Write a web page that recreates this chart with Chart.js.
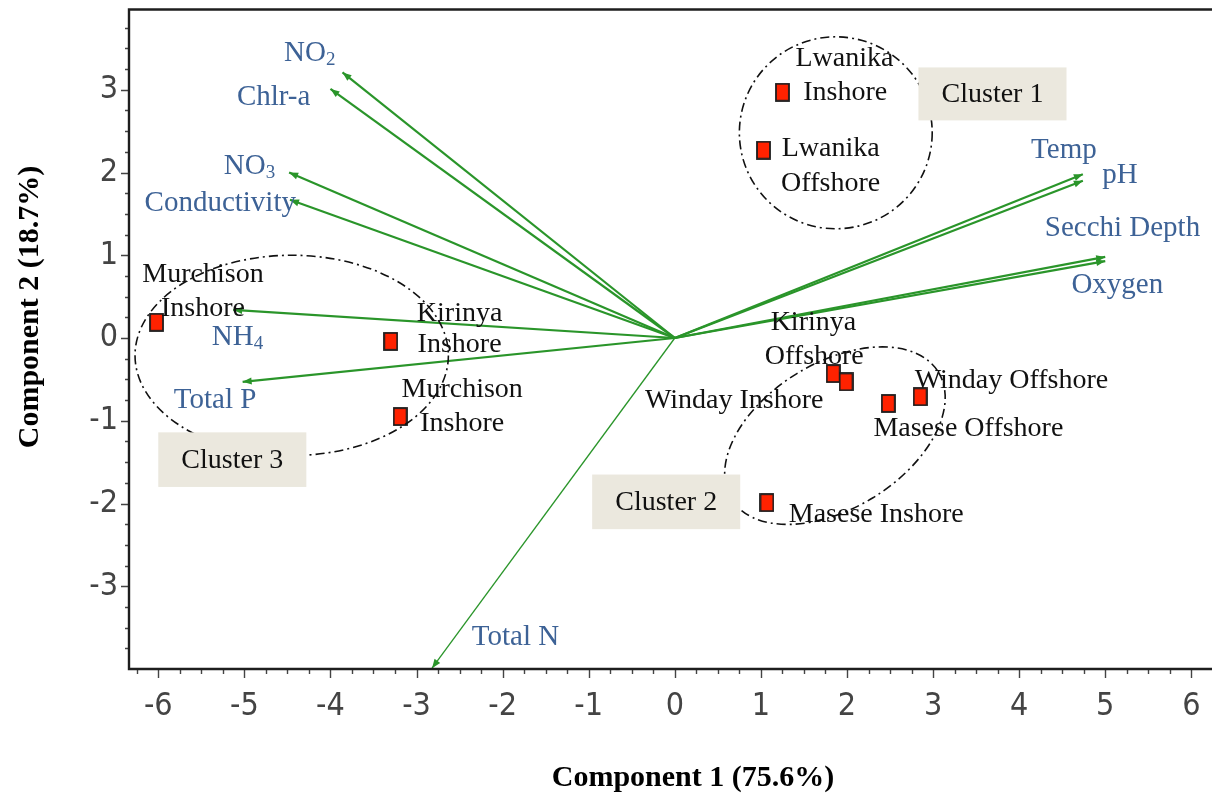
<!DOCTYPE html>
<html lang="en">
<head>
<meta charset="UTF-8" />
<title>PCA biplot - Components 1 and 2</title>
<script src="https://cdn.jsdelivr.net/npm/chart.js"></script>
<style>
  html, body { margin: 0; padding: 0; background: #fff; overflow: hidden; }
  canvas { display: block; }
</style>
</head>
<body>
<canvas id="biplot" width="1212" height="796"></canvas>
<script>
  // sampling sites (component scores)
  const siteNames = ['Lwanika Inshore', 'Lwanika Offshore', 'Murchison Inshore', 'Kirinya Inshore', 'Murchison Inshore',
                     'Kirinya Offshore', 'Winday Inshore', 'Masese Offshore', 'Winday Offshore', 'Masese Inshore'];
  const siteX = [1.25, 1.03, -6.02, -3.30, -3.19, 1.84, 1.99, 2.48, 2.85, 1.07];
  const siteY = [2.97, 2.27, 0.19, -0.04, -0.95, -0.43, -0.53, -0.79, -0.71, -1.99];

  // variable loadings (arrow tips)
  const varNames = ['NO2', 'Chlr-a', 'NO3', 'Conductivity', 'NH4', 'Total P', 'Total N', 'Temp', 'pH', 'Secchi Depth', 'Oxygen'];
  const varX = [-3.86, -4.00, -4.48, -4.47, -5.13, -5.02, -2.82, 4.74, 4.74, 5.00, 5.00];
  const varY = [3.21, 3.01, 2.00, 1.67, 0.34, -0.53, -3.99, 1.98, 1.90, 0.98, 0.93];

  const xTicks = [-6, -5, -4, -3, -2, -1, 0, 1, 2, 3, 4, 5, 6];
  const yTicks = [-3, -2, -1, 0, 1, 2, 3];

  // annotation layout (in axis units)
  const siteLabels = [
    { t: 'Lwanika', x: 1.97, y: 3.38 }, { t: 'Inshore', x: 1.98, y: 2.96 },
    { t: 'Lwanika', x: 1.81, y: 2.29 }, { t: 'Offshore', x: 1.81, y: 1.87 },
    { t: 'Murchison', x: -5.48, y: 0.76 }, { t: 'Inshore', x: -5.48, y: 0.36 },
    { t: 'Kirinya', x: -2.50, y: 0.30 }, { t: 'Inshore', x: -2.50, y: -0.08 },
    { t: 'Murchison', x: -2.47, y: -0.63 }, { t: 'Inshore', x: -2.47, y: -1.04 },
    { t: 'Kirinya', x: 1.61, y: 0.18 }, { t: 'Offshore', x: 1.62, y: -0.23 },
    { t: 'Winday Inshore', x: 0.69, y: -0.76 },
    { t: 'Winday Offshore', x: 3.91, y: -0.52 },
    { t: 'Masese Offshore', x: 3.41, y: -1.09 },
    { t: 'Masese Inshore', x: 2.34, y: -2.13 }
  ];
  const varLabels = [
    { t: 'NO', sub: '2', x: -4.24, y: 3.44 },
    { t: 'Chlr-a', x: -4.66, y: 2.91 },
    { t: 'NO', sub: '3', x: -4.94, y: 2.08 },
    { t: 'Conductivity', x: -5.28, y: 1.63 },
    { t: 'NH', sub: '4', x: -5.08, y: 0.01 },
    { t: 'Total P', x: -5.34, y: -0.75 },
    { t: 'Total N', x: -1.85, y: -3.62 },
    { t: 'Temp', x: 4.52, y: 2.27 },
    { t: 'pH', x: 5.17, y: 1.96 },
    { t: 'Secchi Depth', x: 5.20, y: 1.32 },
    { t: 'Oxygen', x: 5.14, y: 0.64 }
  ];
  const clusterRings = [
    { cx: 1.87, cy: 2.48, rx: 1.12, ry: 1.16, rot: 0 },
    { cx: -4.45, cy: -0.21, rx: 1.82, ry: 1.21, rot: 0 },
    { cx: 1.86, cy: -1.18, rx: 1.41, ry: 0.88, rot: -31.5 }
  ];
  const clusterBoxes = [
    { t: 'Cluster 1', x0: 2.83, x1: 4.55, y0: 2.63, y1: 3.27 },
    { t: 'Cluster 3', x0: -6.00, x1: -4.28, y0: -1.80, y1: -1.14 },
    { t: 'Cluster 2', x0: -0.96, x1: 0.76, y0: -2.31, y1: -1.65 }
  ];

  const SERIF = "'Liberation Serif', 'Times New Roman', serif";
  const NARROW = "'Liberation Sans Narrow', 'Arial Narrow', 'DejaVu Sans Condensed', 'Liberation Sans', sans-serif";
  const BLUE = '#3d6296';
  const GREEN = '#2a952a';

  // red square marker
  const marker = document.createElement('canvas');
  marker.width = 15; marker.height = 19;
  const mctx = marker.getContext('2d');
  mctx.fillStyle = '#ff2200';
  mctx.fillRect(1, 1, 13, 17);
  mctx.strokeStyle = '#1c1c1c';
  mctx.lineWidth = 1.8;
  mctx.strokeRect(1, 1, 13, 17);

  const vectorSets = varNames.map((name, i) => ({
    label: name,
    data: [{ x: 0, y: 0 }, { x: varX[i], y: varY[i] }],
    showLine: true,
    borderColor: GREEN,
    borderWidth: name === 'Total N' ? 1.3 : 2.2,
    pointRadius: 0,
    order: 2
  }));

  const biplotDecor = {
    id: 'biplotDecor',
    afterDatasetsDraw(chart) {
      const { ctx, scales: { x, y } } = chart;
      const ux = x.getPixelForValue(1) - x.getPixelForValue(0);
      const uy = y.getPixelForValue(0) - y.getPixelForValue(1);
      const ox = x.getPixelForValue(0), oy = y.getPixelForValue(0);
      ctx.save();

      // arrow heads
      ctx.fillStyle = GREEN;
      varX.forEach((vx, i) => {
        const tx = x.getPixelForValue(vx), ty = y.getPixelForValue(varY[i]);
        const len = Math.hypot(tx - ox, ty - oy);
        const dx = (tx - ox) / len, dy = (ty - oy) / len;
        const hl = 9, hw = 3.5;
        ctx.beginPath();
        ctx.moveTo(tx, ty);
        ctx.lineTo(tx - hl * dx - hw * dy, ty - hl * dy + hw * dx);
        ctx.lineTo(tx - hl * dx + hw * dy, ty - hl * dy - hw * dx);
        ctx.closePath();
        ctx.fill();
      });

      // cluster rings
      ctx.strokeStyle = '#111';
      ctx.lineWidth = 1.6;
      ctx.setLineDash([9, 4, 2, 4]);
      clusterRings.forEach(r => {
        ctx.beginPath();
        ctx.ellipse(x.getPixelForValue(r.cx), y.getPixelForValue(r.cy), r.rx * ux, r.ry * uy,
                    r.rot * Math.PI / 180, 0, Math.PI * 2);
        ctx.stroke();
      });
      ctx.setLineDash([]);

      // cluster boxes
      ctx.textAlign = 'center';
      ctx.textBaseline = 'middle';
      clusterBoxes.forEach(b => {
        const l = x.getPixelForValue(b.x0), r = x.getPixelForValue(b.x1);
        const t = y.getPixelForValue(b.y1), bt = y.getPixelForValue(b.y0);
        ctx.fillStyle = '#ebe8de';
        ctx.fillRect(l, t, r - l, bt - t);
        ctx.fillStyle = '#111';
        ctx.font = '28px ' + SERIF;
        ctx.fillText(b.t, (l + r) / 2, (t + bt) / 2 + 1);
      });

      // site labels
      ctx.fillStyle = '#111';
      ctx.font = '28px ' + SERIF;
      siteLabels.forEach(s => ctx.fillText(s.t, x.getPixelForValue(s.x), y.getPixelForValue(s.y)));

      // variable labels
      ctx.fillStyle = BLUE;
      varLabels.forEach(v => {
        const cx = x.getPixelForValue(v.x), cy = y.getPixelForValue(v.y);
        ctx.font = '29px ' + SERIF;
        const w1 = ctx.measureText(v.t).width;
        let w2 = 0;
        if (v.sub) { ctx.font = '19px ' + SERIF; w2 = ctx.measureText(v.sub).width; }
        const start = cx - (w1 + w2) / 2;
        ctx.textAlign = 'left';
        ctx.font = '29px ' + SERIF;
        ctx.fillText(v.t, start, cy);
        if (v.sub) {
          ctx.font = '19px ' + SERIF;
          ctx.fillText(v.sub, start + w1, cy + 7);
        }
      });
      ctx.restore();
    },
    afterDraw(chart) {
      const { ctx, chartArea: a, scales: { x, y } } = chart;
      ctx.save();
      // minor/major tick marks
      ctx.strokeStyle = '#444';
      ctx.lineWidth = 1.4;
      ctx.beginPath();
      for (let v = -6.25; v <= x.max + 1e-9; v += 0.25) {
        const px = Math.round(x.getPixelForValue(v)) + 0.5;
        const major = Math.abs(v - Math.round(v)) < 1e-6;
        ctx.moveTo(px, a.bottom);
        ctx.lineTo(px, a.bottom + (major ? 9 : 5));
      }
      for (let v = -3.75; v <= y.max + 1e-9; v += 0.25) {
        const py = Math.round(y.getPixelForValue(v)) + 0.5;
        const major = Math.abs(v - Math.round(v)) < 1e-6;
        ctx.moveTo(a.left, py);
        ctx.lineTo(a.left - (major ? 8 : 4), py);
      }
      ctx.stroke();

      // frame (left, bottom, top)
      ctx.strokeStyle = '#1e1e1e';
      ctx.lineWidth = 2.4;
      ctx.beginPath();
      ctx.moveTo(a.right, a.top);
      ctx.lineTo(a.left, a.top);
      ctx.lineTo(a.left, a.bottom);
      ctx.lineTo(a.right, a.bottom);
      ctx.stroke();

      // axis titles
      ctx.fillStyle = '#000';
      ctx.font = 'bold 30px ' + SERIF;
      ctx.textAlign = 'center';
      ctx.textBaseline = 'middle';
      ctx.fillText('Component 1 (75.6%)', 693, 778);
      ctx.translate(30, 307);
      ctx.rotate(-Math.PI / 2);
      ctx.fillText('Component 2 (18.7%)', 0, 0);
      ctx.restore();
    }
  };

  new Chart(document.getElementById('biplot'), {
    type: 'scatter',
    data: {
      datasets: [{
        label: 'Sites',
        data: siteX.map((v, i) => ({ x: v, y: siteY[i], name: siteNames[i] })),
        pointStyle: marker,
        pointRadius: 8,
        order: 0
      }, ...vectorSets]
    },
    options: {
      responsive: false,
      animation: false,
      devicePixelRatio: 1,
      layout: { autoPadding: false, padding: { top: 9.5, right: 0, left: 0, bottom: 0 } },
      plugins: { legend: { display: false }, tooltip: { enabled: false } },
      scales: {
        x: {
          type: 'linear',
          min: -6.34,
          max: 6.24,
          afterBuildTicks: s => { s.ticks = xTicks.map(v => ({ value: v })); },
          afterFit: s => { s.height = 127; s.paddingLeft = 0; s.paddingRight = 0; },
          grid: { display: false, drawTicks: false },
          border: { display: false },
          ticks: {
            autoSkip: false, maxRotation: 0, padding: 18, color: '#444',
            font: { family: NARROW, size: 32 },
            callback: v => String(v)
          }
        },
        y: {
          type: 'linear',
          min: -4.0,
          max: 3.97,
          afterBuildTicks: s => { s.ticks = yTicks.map(v => ({ value: v })); },
          afterFit: s => { s.width = 129; s.paddingTop = 0; s.paddingBottom = 0; },
          grid: { display: false, drawTicks: false },
          border: { display: false },
          ticks: {
            autoSkip: false, padding: 11, color: '#444',
            font: { family: NARROW, size: 32 },
            callback: v => String(v)
          }
        }
      }
    },
    plugins: [biplotDecor]
  });
</script>
</body>
</html>
